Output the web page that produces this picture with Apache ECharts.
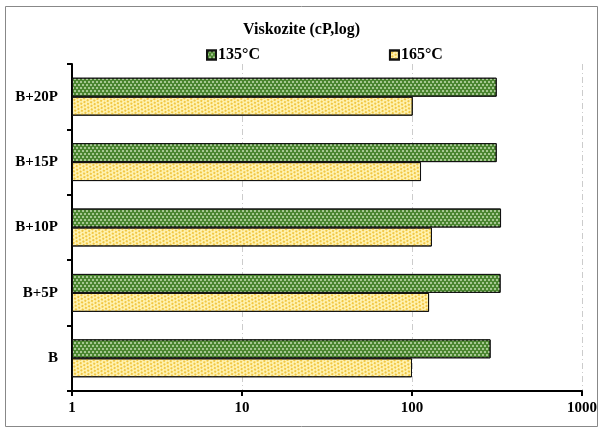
<!DOCTYPE html>
<html><head><meta charset="utf-8">
<script src="https://cdn.jsdelivr.net/npm/echarts@6/dist/echarts.min.js"></script>
<style>html,body{margin:0;padding:0;background:#fff}#c{width:603px;height:433px}</style>
</head><body><div id="c"></div>
<script>
const categories = ['B', 'B+5P', 'B+10P', 'B+15P', 'B+20P'];
const v135 = [290, 332, 334, 315, 315];
const v165 = [100, 126, 131, 113, 101];
const xTicks = [1, 10, 100, 1000];
const FONT = '"Liberation Serif", "Times New Roman", serif';

const chart = echarts.init(document.getElementById('c'), null, {renderer: 'canvas'});
chart.setOption({
  animation: false,
  backgroundColor: '#fff',
  title: {
    text: 'Viskozite (cP,log)', left: 'center', top: 17,
    textStyle: {fontFamily: FONT, fontWeight: 'bold', fontSize: 16, color: '#000'}
  },
  legend: {
    top: 42, left: 201, itemGap: 129, itemWidth: 9, itemHeight: 9,
    textStyle: {fontFamily: FONT, fontWeight: 'bold', fontSize: 16, color: '#000', padding: [0,0,0,-3]},
    data: [{name: '135°C', icon: 'rect'}, {name: '165°C', icon: 'rect'}]
  },
  grid: {left: 72, right: 21, top: 64, bottom: 42, containLabel: false},
  xAxis: {
    type: 'log', min: xTicks[0], max: xTicks[xTicks.length - 1], logBase: 10,
    axisLine: {show: true, lineStyle: {color: '#000', width: 2}},
    axisTick: {show: true, length: 5, lineStyle: {color: '#000', width: 2}},
    axisLabel: {fontFamily: FONT, fontWeight: 'bold', fontSize: 15, color: '#000', margin: 10,
                formatter: v => String(Math.round(v))},
    minorTick: {show: false},
    splitLine: {show: true, lineStyle: {color: '#ccc', type: [6, 3, 1, 3], width: 1}}
  },
  yAxis: {
    type: 'category', data: categories,
    axisLine: {show: true, lineStyle: {color: '#000', width: 2}},
    axisTick: {show: true, length: 5, lineStyle: {color: '#000', width: 2}},
    axisLabel: {fontFamily: FONT, fontWeight: 'bold', fontSize: 15, color: '#000', margin: 14},
    splitLine: {show: false}
  },
  series: [
    {
      name: '135°C', type: 'bar', data: v135, barGap: '0%', barCategoryGap: '42%',
      itemStyle: {
        color: '#4a8530', borderColor: '#111', borderWidth: 1,
        decal: {symbol: 'rect', symbolSize: 0.8, color: 'rgba(235,250,220,0.95)',
                dashArrayX: [[1.5, 1.5], [0, 1.5, 1.5, 0]], dashArrayY: [1.5, 0.5]}
      }
    },
    {
      name: '165°C', type: 'bar', data: v165,
      itemStyle: {
        color: '#fff2b0', borderColor: '#111', borderWidth: 1,
        decal: {symbol: 'circle', symbolSize: 1, color: '#ecb820',
                dashArrayX: [[2, 2], [0, 2, 2, 0]], dashArrayY: [2, 1], rotation: 0.5}
      }
    }
  ],
  graphic: [{
    type: 'rect', shape: {x: 5.5, y: 6.5, width: 592, height: 420},
    style: {fill: 'none', stroke: '#888', lineWidth: 1}, silent: true, z: -1
  }]
});
</script></body></html>
